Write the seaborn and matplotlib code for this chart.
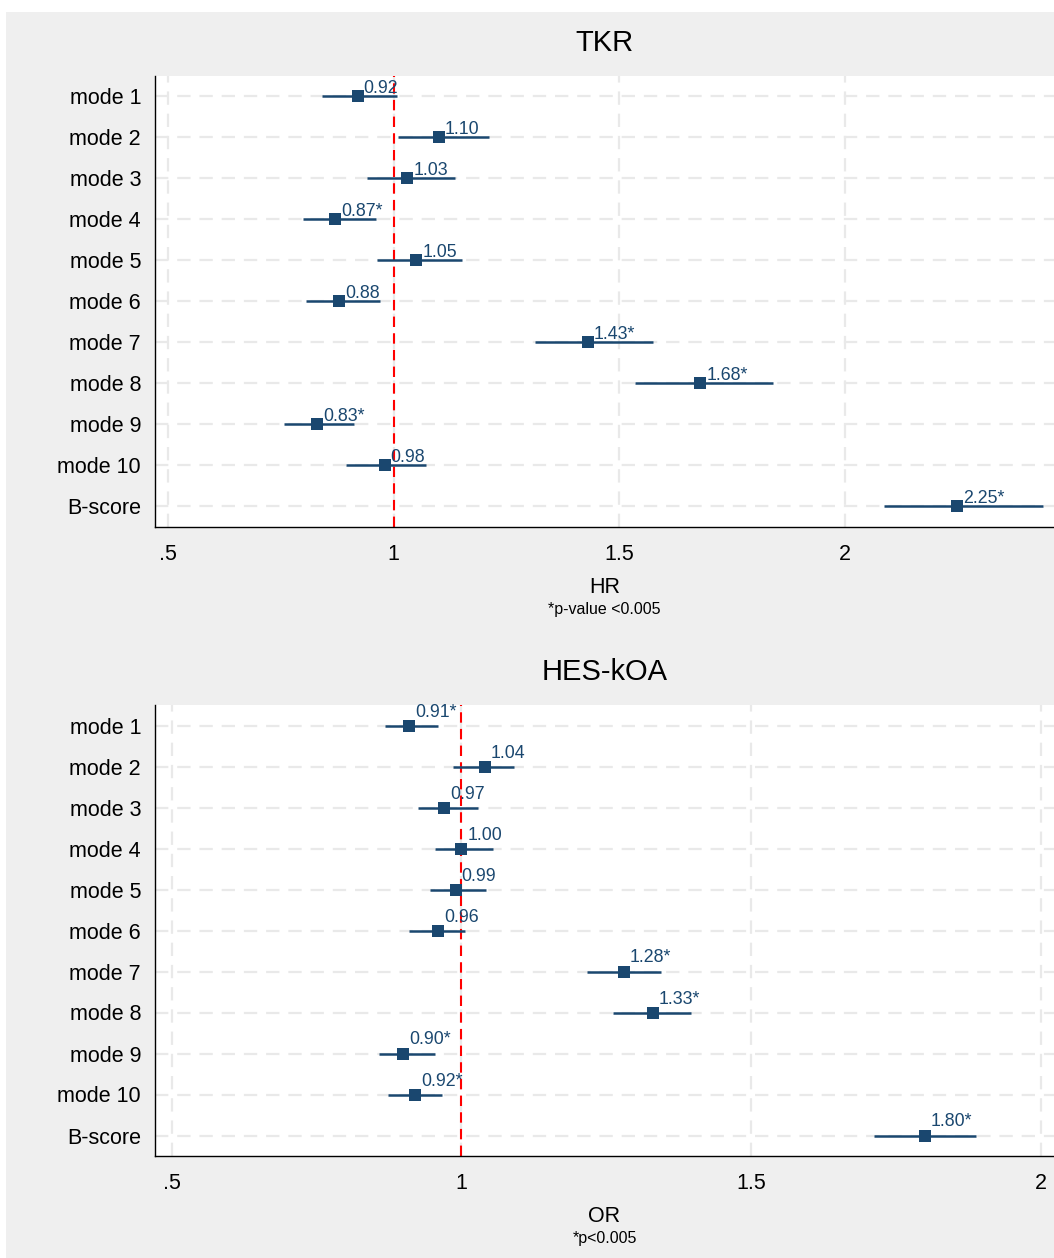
import seaborn as sns
import pandas as pd
import matplotlib.pyplot as plt
import numpy as np

# Values
labels = ["mode 1", "mode 2", "mode 3", "mode 4", "mode 5", "mode 6",
          "mode 7", "mode 8", "mode 9", "mode 10", "B-score"]

tkrEst = [0.92, 1.10, 1.03, 0.87, 1.05, 0.88, 1.43, 1.68, 0.83, 0.98, 2.25]
tkrLow = [0.841, 1.009, 0.941, 0.800, 0.963, 0.806, 1.313, 1.536, 0.756, 0.894, 2.088]
tkrHigh = [1.008, 1.211, 1.137, 0.960, 1.152, 0.970, 1.575, 1.842, 0.913, 1.071, 2.439]
tkrText = ["0.92", "1.10", "1.03", "0.87*", "1.05", "0.88", "1.43*", "1.68*", "0.83*", "0.98", "2.25*"]

hesEst = [0.91, 1.04, 0.97, 1.00, 0.99, 0.96, 1.28, 1.33, 0.90, 0.92, 1.80]
hesLow = [0.868, 0.986, 0.925, 0.955, 0.945, 0.910, 1.217, 1.262, 0.858, 0.873, 1.713]
hesHigh = [0.959, 1.091, 1.028, 1.055, 1.043, 1.007, 1.345, 1.397, 0.954, 0.967, 1.889]
hesText = ["0.91*", "1.04", "0.97", "1.00", "0.99", "0.96", "1.28*", "1.33*", "0.90*", "0.92*", "1.80*"]

xTicks = [0.5, 1, 1.5, 2]
xTickLabels = [".5", "1", "1.5", "2"]

sns.set_style("white")
plt.rcParams['font.family'] = ['Liberation Sans', 'DejaVu Sans']
plt.rcParams['text.color'] = 'black'
plt.rcParams['axes.labelcolor'] = 'black'
plt.rcParams['xtick.color'] = 'black'
plt.rcParams['ytick.color'] = 'black'

navy = "#1a476f"
W, H = 1054, 1258

fig = plt.figure(figsize=(W / 100, H / 100), dpi=100)
fig.patch.set_facecolor("white")
# grey graph region (Stata style)
fig.add_artist(plt.Rectangle((6 / W, 0), 1, (H - 12) / H, transform=fig.transFigure,
                             facecolor="#efefef", edgecolor="none", zorder=0))


def forest(ax, est, low, high, text, title, xlabel, note, xlim, labelDy):
    df = pd.DataFrame({"label": labels, "est": est, "low": low, "high": high,
                       "pos": np.arange(len(labels))})
    ax.set_facecolor("white")
    for x in xTicks:
        ax.axvline(x, color="#e9e9e9", lw=1.6, ls=(0, (6, 4)), zorder=1)
    for y in df["pos"]:
        ax.axhline(y, color="#e9e9e9", lw=1.6, ls=(0, (6, 4)), zorder=1)
    ax.axvline(1, color="red", lw=1.5, ls=(0, (5, 3)), zorder=2)
    ax.hlines(df["pos"], df["low"], df["high"], color=navy, lw=1.8, zorder=3)
    sns.scatterplot(data=df, x="est", y="pos", marker="s", s=65, color=navy,
                    edgecolor=navy, linewidth=0, ax=ax, zorder=4)
    for _, r in df.iterrows():
        ax.annotate(text[r["pos"]], (r["est"], r["pos"]), xytext=(6, labelDy),
                    textcoords="offset pixels", ha="left", va="baseline",
                    color=navy, fontsize=12.8, zorder=5)
    ax.set_xlim(*xlim)
    ax.set_ylim(len(labels) - 0.5, -0.5)
    ax.set_yticks(df["pos"])
    ax.set_yticklabels(labels, fontsize=15.5)
    ax.set_xticks(xTicks)
    ax.set_xticklabels(xTickLabels, fontsize=15.5)
    ax.tick_params(axis="both", direction="out", length=6, width=1, color="black", pad=6)
    ax.tick_params(axis="y", pad=4)
    for s in ["top", "right"]:
        ax.spines[s].set_visible(False)
    for s in ["left", "bottom"]:
        ax.spines[s].set_color("black")
        ax.spines[s].set_linewidth(1)
    ax.set_xlabel(xlabel, fontsize=15.5, labelpad=9)
    ax.set_ylabel("")
    ax.set_title(title, fontsize=21, pad=18)
    ax.text(0.5, -0.183, note, transform=ax.transAxes, ha="center", va="center", fontsize=11.5)


left = 155 / W
axTop = fig.add_axes([left, 1 - 527 / H, 1 - left, 451 / H])
axBot = fig.add_axes([left, 1 - 1156 / H, 1 - left, 451 / H])

forest(axTop, tkrEst, tkrLow, tkrHigh, tkrText, "TKR", "HR", "*p-value <0.005",
       (0.471, 2.464), 3)
forest(axBot, hesEst, hesLow, hesHigh, hesText, "HES-kOA", "OR", "*p<0.005",
       (0.471, 2.023), 9)

fig.savefig("out.png", dpi=100)
